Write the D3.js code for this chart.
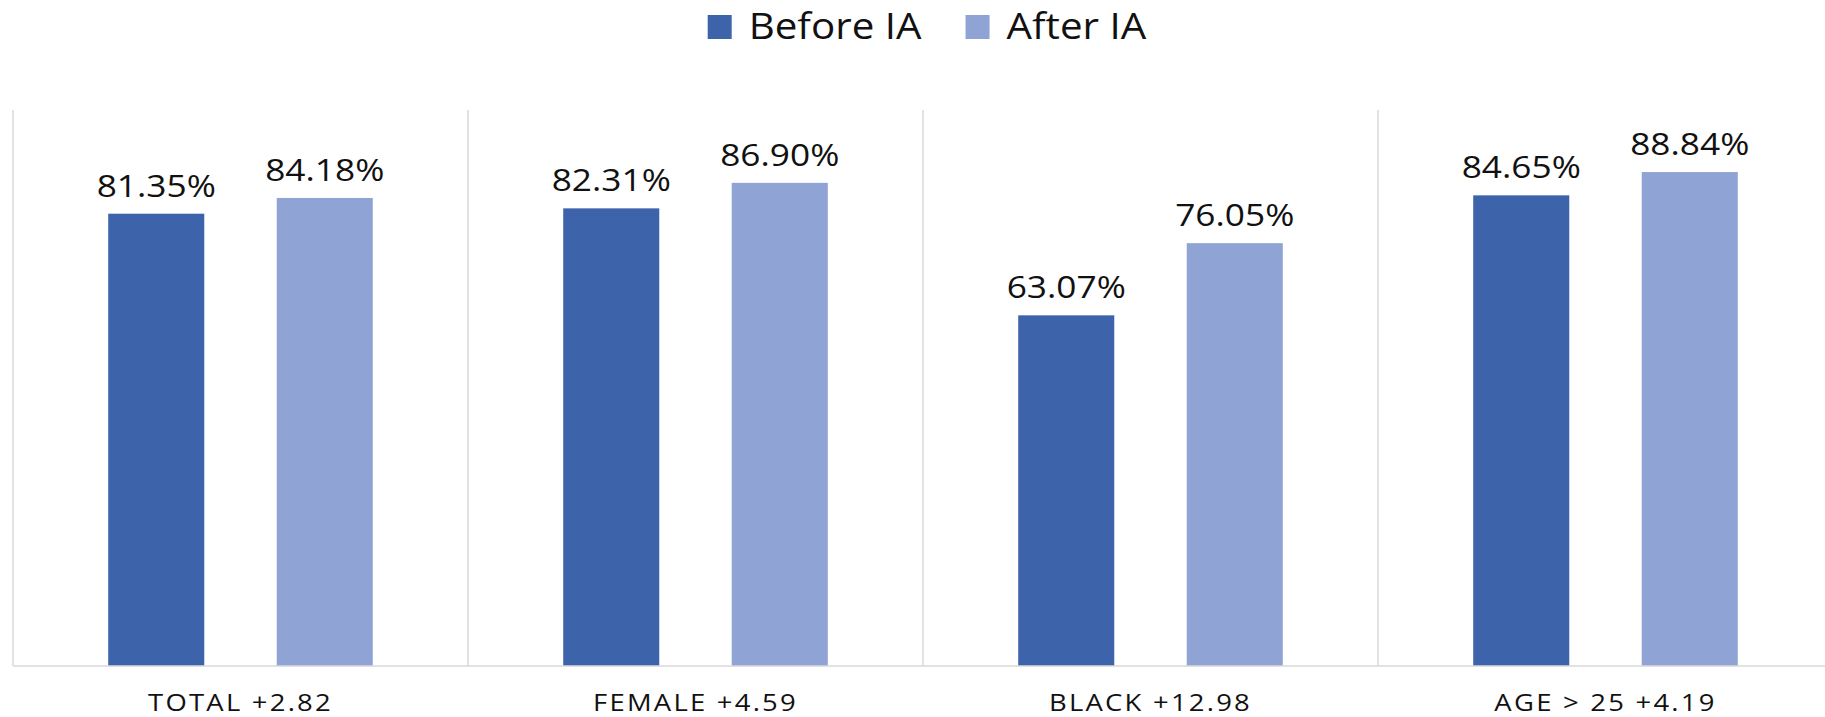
<!DOCTYPE html>
<html>
<head>
<meta charset="utf-8">
<script src="https://cdn.jsdelivr.net/npm/d3@7"></script>
<style>
  html, body { margin: 0; padding: 0; background: #fff; }
  svg { display: block; }
  text { font-family: "Open Sans", "DejaVu Sans", sans-serif; fill: #111; }
</style>
</head>
<body>
<svg id="chart" width="1825" height="717"></svg>
<script>
// Share of students, before and after IA, by group
const categories = ["TOTAL +2.82", "FEMALE +4.59", "BLACK +12.98", "AGE > 25 +4.19"];
const seriesNames = ["Before IA", "After IA"];
const beforeIA = [81.35, 82.31, 63.07, 84.65];
const afterIA = [84.18, 86.90, 76.05, 88.84];
const colors = ["#3d64ab", "#8fa3d4"];

const W = 1825, H = 717;
const plot = { left: 13, right: 1833, top: 110, bottom: 666 };
const stretch = 1.12; // horizontal widening of glyphs

const svg = d3.select("#chart");

const rows = categories.map((c, i) => ({ cat: c, values: [beforeIA[i], afterIA[i]] }));

const x0 = d3.scaleBand().domain(categories).range([plot.left, plot.right]).paddingInner(0).paddingOuter(0);
const x1 = d3.scaleBand().domain(seriesNames).range([0, x0.bandwidth()]).paddingInner(0.43).paddingOuter(0.565);
const y = d3.scaleLinear().domain([0, 100]).range([plot.bottom, plot.top]);

// stretched text helper
function sText(g, x, yPos, str, size, anchor, spacing) {
  const t = g.append("text")
    .attr("transform", `translate(${x},${yPos}) scale(${stretch},1)`)
    .attr("text-anchor", anchor)
    .style("font-size", size + "px")
    .text(str);
  if (spacing) t.style("letter-spacing", spacing + "px");
  return t;
}

// group separators
const grid = svg.append("g").attr("stroke", "#d9d9d9").attr("stroke-width", 1.5);
categories.forEach(c => {
  grid.append("line")
    .attr("x1", x0(c)).attr("x2", x0(c))
    .attr("y1", plot.top).attr("y2", plot.bottom);
});
grid.append("line")
  .attr("x1", plot.right).attr("x2", plot.right)
  .attr("y1", plot.top).attr("y2", plot.bottom);

// bars
const groups = svg.append("g").selectAll("g").data(rows).join("g")
  .attr("transform", d => `translate(${x0(d.cat)},0)`);

groups.selectAll("rect").data(d => d.values.map((v, j) => ({ v, s: seriesNames[j], j })))
  .join("rect")
  .attr("x", d => x1(d.s))
  .attr("width", x1.bandwidth())
  .attr("y", d => y(d.v))
  .attr("height", d => y(0) - y(d.v))
  .attr("fill", d => colors[d.j]);

// value labels
groups.each(function(d) {
  const g = d3.select(this);
  d.values.forEach((v, j) => {
    sText(g, x1(seriesNames[j]) + x1.bandwidth() / 2, y(v) - 17, v.toFixed(2) + "%", 31.5, "middle");
  });
});

// baseline
svg.append("line")
  .attr("x1", plot.left).attr("x2", W)
  .attr("y1", plot.bottom).attr("y2", plot.bottom)
  .attr("stroke", "#d9d9d9").attr("stroke-width", 1.5);

// category axis labels
const xAxis = d3.axisBottom(x0).tickSize(0).tickPadding(0);
const axisG = svg.append("g").attr("transform", `translate(0,${plot.bottom})`).call(xAxis);
axisG.select(".domain").remove();
axisG.selectAll(".tick text")
  .attr("y", 0).attr("dy", 0)
  .attr("transform", `translate(0,45) scale(${stretch},1)`)
  .attr("x", 0)
  .style("font-size", "24.5px")
  .style("letter-spacing", "2px")
  .style("font-family", '"Open Sans", "DejaVu Sans", sans-serif')
  .attr("fill", "#111");

// legend
const legend = svg.append("g");
let lx = 0;
seriesNames.forEach((name, j) => {
  const item = legend.append("g").attr("transform", `translate(${lx},0)`);
  item.append("rect").attr("x", 0).attr("y", 15).attr("width", 24).attr("height", 24).attr("fill", colors[j]);
  const t = sText(item, 41, 39, name, 36, "start");
  const w = t.node().getComputedTextLength() * stretch;
  lx += 41 + w + 44;
});
const legendW = lx - 44;
legend.attr("transform", `translate(${927 - legendW / 2},0)`);
</script>
</body>
</html>
